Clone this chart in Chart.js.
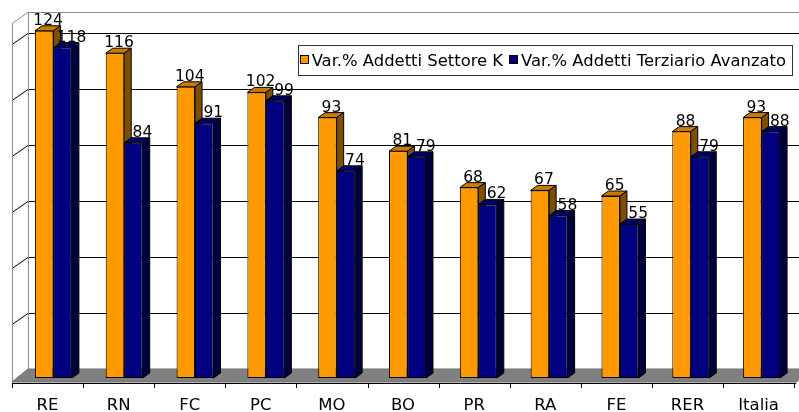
<!DOCTYPE html>
<html>
<head>
<meta charset="utf-8">
<script src="https://cdn.jsdelivr.net/npm/chart.js@4.4.0/dist/chart.umd.min.js"></script>
<style>
    body { margin: 0; background: #fff; }
</style>
</head>
<body>
<canvas id="myChart" width="799" height="412"></canvas>
<script>
let categories = ['RE', 'RN', 'FC', 'PC', 'MO', 'BO', 'PR', 'RA', 'FE', 'RER', 'Italia'];
let settoreK = [124, 116, 104, 102, 93, 81, 68, 67, 65, 88, 93];
let terziarioAvanzato = [118, 84, 91, 99, 74, 79, 62, 58, 55, 79, 88];
let seriesNames = ['Var.% Addetti Settore K', 'Var.% Addetti Terziario Avanzato'];

// front, top and side colour of each series
let shades = [
    ['#FF9900', '#CC7A00', '#7F4F00'],
    ['#000080', '#000066', '#00003F']
];

let bar3d = {dx: 7, dy: 5};      // depth of a single column
let wall = {dx: 16, dy: 9};      // depth of the floor / back wall
let labelShift = [4, 9];         // value labels sit over the column tops
let font = '"DejaVu Sans", sans-serif';

let ctx = document.getElementById('myChart').getContext('2d');

function line(c, x1, y1, x2, y2) {
    c.beginPath();
    c.moveTo(x1, y1);
    c.lineTo(x2, y2);
    c.stroke();
}

function poly(c, pts, fill, stroke) {
    c.beginPath();
    c.moveTo(pts[0][0], pts[0][1]);
    for (let i = 1; i < pts.length; i++) c.lineTo(pts[i][0], pts[i][1]);
    c.closePath();
    if (fill) { c.fillStyle = fill; c.fill(); }
    if (stroke) { c.strokeStyle = stroke; c.stroke(); }
}

function drawRoom(chart) {
    let c = chart.ctx;
    let area = chart.chartArea;
    let ys = chart.scales.y;
    let frontLeft = area.left - 6;
    let backLeft = frontLeft + wall.dx;
    let floorBack = area.bottom - wall.dy;
    let floorFront = area.bottom + 4;
    let wallTop = area.top - 2;
    let right = chart.width + 10;

    c.save();
    c.lineWidth = 1;

    // back wall gridlines, continued across the left wall
    c.strokeStyle = '#000';
    ys.ticks.forEach(function (t) {
        if (t.value <= 0 || t.value % 20 !== 0) return;
        let y = Math.round(ys.getPixelForValue(t.value) - wall.dy) + 0.5;
        line(c, backLeft, y, right, y);
        line(c, backLeft, y, frontLeft, y + 11);
    });

    // wall edges
    c.strokeStyle = '#8C8C8C';
    line(c, backLeft, wallTop + 0.5, right, wallTop + 0.5);
    line(c, backLeft + 0.5, wallTop, backLeft + 0.5, floorBack);
    poly(c, [[frontLeft + 0.5, wallTop + 11], [backLeft + 0.5, wallTop], [backLeft + 0.5, floorBack],
             [frontLeft + 0.5, floorFront]], null, '#8C8C8C');

    // floor
    let floorRight = frontLeft + (area.right - area.left) * 1.004 + 2;
    poly(c, [[frontLeft, floorFront], [backLeft, floorBack], [right, floorBack],
             [floorRight + wall.dx, floorBack], [floorRight, floorFront]], '#808080', '#6E6E6E');
    poly(c, [[floorRight, floorFront], [floorRight + 6, floorFront - 4], [floorRight + 6, floorFront - 2],
             [floorRight, floorFront + 1]], '#B0B0B0', null);
    c.strokeStyle = '#000';
    line(c, frontLeft, floorFront + 1.5, floorRight, floorFront + 1.5);
    c.restore();
}

function drawAxisLabels(chart) {
    let c = chart.ctx;
    let area = chart.chartArea;
    let step = (area.right - area.left) / categories.length * 1.004;
    let x0 = area.left - 6;
    let y = area.bottom + 5;

    c.save();
    c.strokeStyle = '#000';
    c.lineWidth = 1;
    for (let i = 0; i <= categories.length; i++) {
        let x = Math.round(x0 + i * step) + 0.5;
        line(c, x, y, x, y + 5);
    }
    c.fillStyle = '#000';
    c.font = '16.5px ' + font;
    c.textAlign = 'center';
    c.textBaseline = 'alphabetic';
    categories.forEach(function (name, i) {
        c.fillText(name, x0 + (i + 0.5) * step, chart.height - 2);
    });
    c.restore();
}

function drawColumnFaces(chart) {
    let c = chart.ctx;
    let dx = bar3d.dx, dy = bar3d.dy;
    let metas = chart.data.datasets.map(function (d, i) { return chart.getDatasetMeta(i); });
    c.save();
    c.lineWidth = 1;
    for (let i = 0; i < categories.length; i++) {
        metas.forEach(function (meta, s) {
            let bar = meta.data[i];
            let l = bar.x - bar.width / 2, r = bar.x + bar.width / 2;
            let top = bar.y, base = bar.base;
            poly(c, [[l, top], [l + dx, top - dy], [r + dx, top - dy], [r, top]], shades[s][1], '#000');
            poly(c, [[r, top], [r + dx, top - dy], [r + dx, base - dy], [r, base]], shades[s][2], '#000');
        });
    }
    c.restore();
}

function drawValueLabels(chart) {
    let c = chart.ctx;
    c.save();
    c.fillStyle = '#000';
    c.font = '15.5px ' + font;
    c.textAlign = 'center';
    c.textBaseline = 'alphabetic';
    chart.data.datasets.forEach(function (ds, s) {
        chart.getDatasetMeta(s).data.forEach(function (bar, i) {
            c.fillText(ds.data[i], bar.x + labelShift[s], bar.y - 6);
        });
    });
    c.restore();
}

function drawLegend(chart) {
    let c = chart.ctx;
    c.save();
    c.font = '16.4px ' + font;
    let widths = seriesNames.map(function (n) { return c.measureText(n).width; });
    let boxW = 2 + widths.reduce(function (a, w) { return a + 9 + 4 + w + 5; }, 0);
    let right = chart.width - 7;
    let left = right - boxW;
    let top = 45, h = 30;

    c.fillStyle = '#fff';
    c.fillRect(left, top, boxW, h);
    c.strokeStyle = '#333';
    c.lineWidth = 1;
    c.strokeRect(Math.round(left) + 0.5, top + 0.5, Math.round(boxW), h);

    let x = left + 2;
    chart.data.datasets.forEach(function (ds, s) {
        c.fillStyle = ds.backgroundColor;
        c.fillRect(Math.round(x) + 0.5, 55.5, 8, 8);
        c.strokeStyle = '#000';
        c.strokeRect(Math.round(x) + 0.5, 55.5, 8, 8);
        c.fillStyle = '#000';
        c.textBaseline = 'alphabetic';
        c.fillText(seriesNames[s], x + 12, 66);
        x += 9 + 4 + widths[s] + 5;
    });
    c.restore();
}

let room3d = {
    id: 'room3d',
    beforeDatasetsDraw: function (chart) {
        drawRoom(chart);
        drawAxisLabels(chart);
        drawColumnFaces(chart);
    },
    afterDatasetsDraw: function (chart) {
        drawValueLabels(chart);
        drawLegend(chart);
    }
};

let myBarChart = new Chart(ctx, {
    type: 'bar',
    data: {
        labels: categories,
        datasets: [{
            label: seriesNames[0],
            data: settoreK,
            backgroundColor: shades[0][0]
        }, {
            label: seriesNames[1],
            data: terziarioAvanzato,
            backgroundColor: shades[1][0]
        }]
    },
    options: {
        responsive: false,
        animation: false,
        layout: {padding: {left: 18, right: 2, top: 14, bottom: 34}},
        datasets: {
            bar: {
                borderColor: '#000',
                borderWidth: 1,
                borderSkipped: false,
                categoryPercentage: 0.522,
                barPercentage: 1
            }
        },
        scales: {
            x: {display: false},
            y: {display: false, min: 0, max: 130, ticks: {stepSize: 20}}
        },
        plugins: {
            legend: {display: false},
            tooltip: {enabled: false}
        }
    },
    plugins: [room3d]
});
</script>
</body>
</html>
